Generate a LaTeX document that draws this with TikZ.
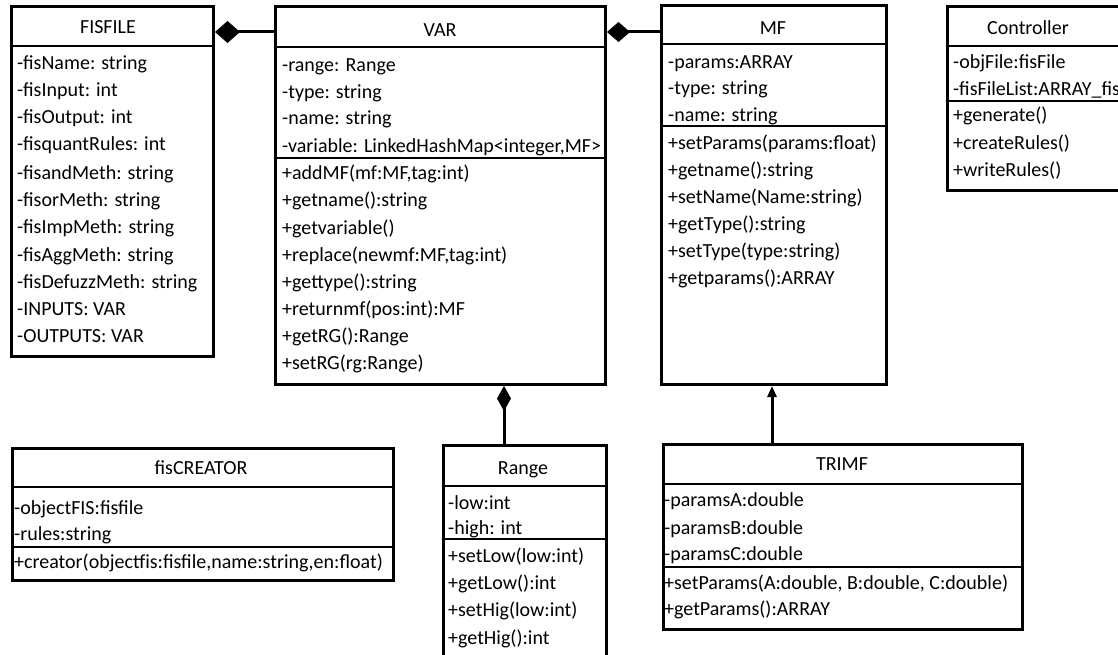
\documentclass[tikz,border=0pt]{standalone}
\usepackage{fontspec}
\setmainfont{Carlito}
\usetikzlibrary{arrows.meta}
\begin{document}
\begin{tikzpicture}[x=1pt,y=-1pt,
  box/.style={draw, line width=3pt, anchor=north west, inner sep=0pt, rectangle},
  sepline/.style={line width=2pt},
  txt/.style={anchor=base west, inner sep=0pt, yshift=-1pt, font=\fontsize{20}{24}\selectfont},
  ttl/.style={anchor=base, inner sep=0pt, yshift=-1pt, font=\fontsize{20}{24}\selectfont},
  conn/.style={line width=3pt}]
\useasboundingbox (0,0) rectangle (1118,655);
\clip (0,0) rectangle (1118,655);

% ---------- FISFILE ----------
\node[box, minimum width=202pt, minimum height=350pt] (fisfile) at (10,5) {};
\draw[sepline] (fisfile.west |- 0,46) -- (fisfile.east |- 0,46);
\node[ttl] (fisfileT) at (108,33) {FISFILE};
\node[txt] (f1) at (17,69) {-fisName: string};
\node[txt] (f2) at (17,96) {-fisInput: int};
\node[txt] (f3) at (17,123) {-fisOutput: int};
\node[txt] (f4) at (17,150) {-fisquantRules: int};
\node[txt] (f5) at (17,178) {-fisandMeth: string};
\node[txt] (f6) at (17,205) {-fisorMeth: string};
\node[txt] (f7) at (17,232) {-fisImpMeth: string};
\node[txt] (f8) at (17,260) {-fisAggMeth: string};
\node[txt] (f9) at (17,287) {-fisDefuzzMeth: string};
\node[txt] (f10) at (17,314) {-INPUTS: VAR};
\node[txt] (f11) at (17,341) {-OUTPUTS: VAR};

% ---------- VAR ----------
\node[box, minimum width=330pt, minimum height=378pt] (var) at (274,5) {};
\draw[sepline] (var.west |- 0,47) -- (var.east |- 0,47);
\draw[sepline] (var.west |- 0,158) -- (var.east |- 0,158);
\node[ttl] (varT) at (440,36) {VAR};
\node[txt] (v1) at (282,71) {-range: Range};
\node[txt] (v2) at (282,98) {-type: string};
\node[txt] (v3) at (282,124) {-name: string};
\node[txt] (v4) at (282,152) {-variable: LinkedHashMap<integer,MF>};
\node[txt] (v5) at (282,179) {+addMF(mf:MF,tag:int)};
\node[txt] (v6) at (282,206) {+getname():string};
\node[txt] (v7) at (282,233) {+getvariable()};
\node[txt] (v8) at (282,260) {+replace(newmf:MF,tag:int)};
\node[txt] (v9) at (282,287) {+gettype():string};
\node[txt] (v10) at (282,314) {+returnmf(pos:int):MF};
\node[txt] (v11) at (282,341) {+getRG():Range};
\node[txt] (v12) at (282,368) {+setRG(rg:Range)};

% ---------- MF ----------
\node[box, minimum width=225pt, minimum height=379pt] (mf) at (660,4) {};
\draw[sepline] (mf.west |- 0,44) -- (mf.east |- 0,44);
\draw[sepline] (mf.west |- 0,126) -- (mf.east |- 0,126);
\node[ttl] (mfT) at (773,34) {MF};
\node[txt] (m1) at (668,68) {-params:ARRAY};
\node[txt] (m2) at (668,94) {-type: string};
\node[txt] (m3) at (668,121) {-name: string};
\node[txt] (m4) at (668,149) {+setParams(params:float)};
\node[txt] (m5) at (668,175) {+getname():string};
\node[txt] (m6) at (668,203) {+setName(Name:string)};
\node[txt] (m7) at (668,229) {+getType():string};
\node[txt] (m8) at (668,256) {+setType(type:string)};
\node[txt] (m9) at (668,283) {+getparams():ARRAY};

% ---------- Controller ----------
\node[box, minimum width=190pt, minimum height=184pt] (ctrl) at (946,5) {};
\draw[sepline] (ctrl.west |- 0,46) -- (ctrl.east |- 0,46);
\draw[sepline] (ctrl.west |- 0,101) -- (ctrl.east |- 0,101);
\node[ttl] (ctrlT) at (1028,34) {Controller};
\node[txt] (c1) at (953,68) {-objFile:fisFile};
\node[txt] (c2) at (953,95) {-fisFileList:ARRAY\_fisFile};
\node[txt] (c3) at (953,121) {+generate()};
\node[txt] (c4) at (953,149) {+createRules()};
\node[txt] (c5) at (953,175) {+writeRules()};

% ---------- fisCREATOR ----------
\node[box, minimum width=381pt, minimum height=132pt] (creator) at (11,447) {};
\draw[sepline] (creator.west |- 0,487) -- (creator.east |- 0,487);
\draw[sepline] (creator.west |- 0,547) -- (creator.east |- 0,547);
\node[ttl] (creatorT) at (201,473) {fisCREATOR};
\node[txt] (k1) at (14,513) {-objectFIS:fisfile};
\node[txt] (k2) at (14,539) {-rules:string};
\node[txt] (k3) at (14,567) {+creator(objectfis:fisfile,name:string,en:float)};

% ---------- Range ----------
\node[box, minimum width=163pt, minimum height=226pt] (range) at (442,444) {};
\draw[sepline] (range.west |- 0,486) -- (range.east |- 0,486);
\draw[sepline] (range.west |- 0,539) -- (range.east |- 0,539);
\node[ttl] (rangeT) at (523,473) {Range};
\node[txt] (r1) at (448,508) {-low:int};
\node[txt] (r2) at (448,533) {-high: int};
\node[txt] (r3) at (448,561) {+setLow(low:int)};
\node[txt] (r4) at (448,588) {+getLow():int};
\node[txt] (r5) at (448,615) {+setHig(low:int)};
\node[txt] (r6) at (448,643) {+getHig():int};

% ---------- TRIMF ----------
\node[box, minimum width=359pt, minimum height=185pt] (trimf) at (662,443) {};
\draw[sepline] (trimf.west |- 0,484) -- (trimf.east |- 0,484);
\draw[sepline] (trimf.west |- 0,567) -- (trimf.east |- 0,567);
\node[ttl] (trimfT) at (842,469) {TRIMF};
\node[txt] (t1) at (664,505) {-paramsA:double};
\node[txt] (t2) at (664,533) {-paramsB:double};
\node[txt] (t3) at (664,559) {-paramsC:double};
\node[txt] (t4) at (664,588) {+setParams(A:double, B:double, C:double)};
\node[txt] (t5) at (664,614) {+getParams():ARRAY};

% ---------- connectors ----------
\draw[conn, {Diamond[length=25pt,width=22pt]}-] ([yshift=-27pt]fisfile.north east) -- ([yshift=-27pt]fisfile.north east -| var.west);
\draw[conn, {Diamond[length=23pt,width=20pt]}-] ([yshift=-27pt]var.north east) -- ([yshift=-27pt]var.north east -| mf.west);
\draw[conn, {Diamond[length=25pt,width=14pt]}-] (var.south -| 504,0) -- (range.north -| 504,0);
\draw[conn, -{Triangle[length=11pt,width=9pt]}] (trimf.north -| 772,0) -- (mf.south -| 772,0);
\end{tikzpicture}
\end{document}
